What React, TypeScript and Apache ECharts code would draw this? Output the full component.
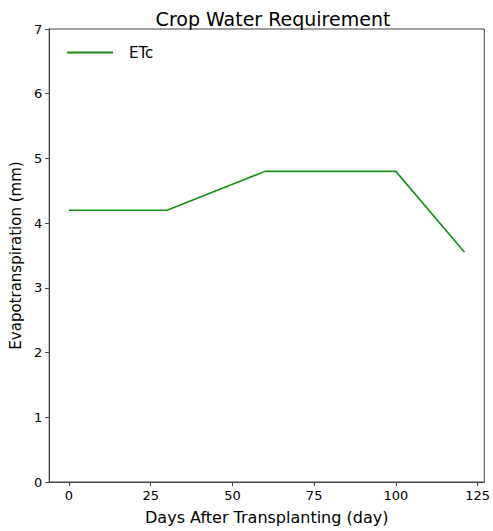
import React, { useEffect, useRef } from "react";
import * as echarts from "echarts";

const days = [0, 30, 60, 100, 121];
const etc = [4.2, 4.2, 4.8, 4.8, 3.55];
const xTicks = [0, 25, 50, 75, 100, 125];
const seriesName = "ETc";
const titleText = "Crop Water Requirement";
const xName = "Days After Transplanting (day)";
const yName = "Evapotranspiration (mm)";

const FONT = "DejaVu Sans";

export default function App() {
  const ref = useRef<HTMLDivElement>(null);
  useEffect(() => {
    if (!ref.current) return;
    const chart = echarts.init(ref.current, null, { renderer: "svg" });
    const xMin = -0.05 * (days[days.length - 1] - days[0]);
    const xMax = days[days.length - 1] + 0.05 * (days[days.length - 1] - days[0]);
    chart.setOption({
      animation: false,
      backgroundColor: "#ffffff",
      textStyle: { fontFamily: FONT },
      title: {
        text: titleText,
        left: 268,
        textAlign: "center",
        top: 4,
        textStyle: { fontFamily: FONT, fontSize: 19, fontWeight: "normal", color: "#000" },
      },
      legend: {
        left: 62,
        top: 40,
        icon: "rect",
        itemWidth: 46,
        itemHeight: 2,
        data: [seriesName],
        textStyle: { fontFamily: FONT, fontSize: 15, color: "#000", padding: [6, 0, 0, 11] },
      },
      grid: {
        left: 49,
        right: 6,
        top: 29,
        bottom: 49,
        show: true,
        borderColor: "#444",
        borderWidth: 1,
        backgroundColor: "transparent",
      },
      xAxis: {
        type: "value",
        min: xMin,
        max: xMax,
        name: xName,
        nameLocation: "middle",
        nameGap: 27,
        nameTextStyle: { fontFamily: FONT, fontSize: 16, color: "#000" },
        axisLine: { show: true, onZero: false, lineStyle: { color: "#444", width: 1 } },
        axisTick: { show: true, customValues: xTicks, length: 4, lineStyle: { color: "#444" } },
        axisLabel: {
          customValues: xTicks,
          margin: 7,
          fontFamily: FONT,
          fontSize: 13,
          color: "#000",
        },
        splitLine: { show: false },
      },
      yAxis: {
        type: "value",
        min: 0,
        max: 7,
        interval: 1,
        name: yName,
        nameLocation: "middle",
        nameGap: 23,
        nameTextStyle: { fontFamily: FONT, fontSize: 15, color: "#000" },
        axisLine: { show: true, onZero: false, lineStyle: { color: "#444", width: 1 } },
        axisTick: { show: true, length: 4, lineStyle: { color: "#444" } },
        axisLabel: { margin: 7, fontFamily: FONT, fontSize: 13, color: "#000" },
        splitLine: { show: false },
      },
      series: [
        {
          name: seriesName,
          type: "line",
          data: days.map((d, i) => [d, etc[i]]),
          showSymbol: false,
          symbol: "none",
          lineStyle: { color: "#159015", width: 1.6 },
          itemStyle: { color: "#159015" },
        },
      ],
    });
    return () => chart.dispose();
  }, []);
  return <div ref={ref} style={{ width: 493, height: 531, position: "absolute", left: 0, top: 0 }} />;
}
